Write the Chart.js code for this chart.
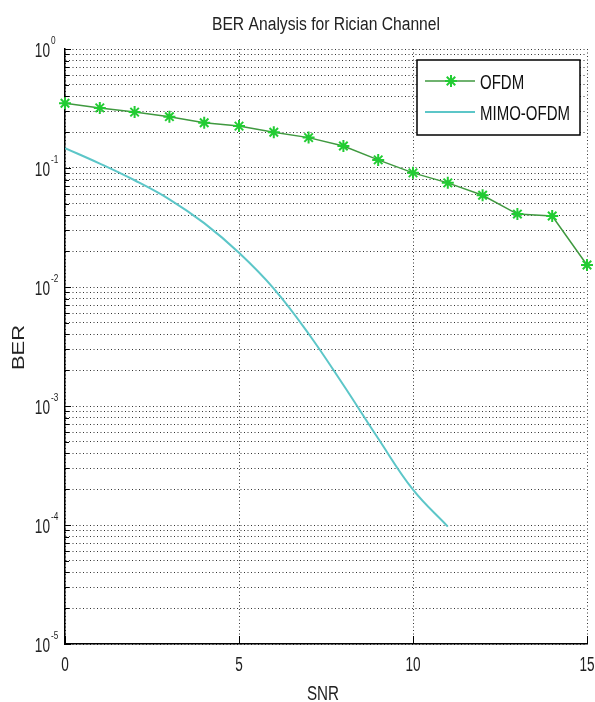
<!DOCTYPE html>
<html>
<head>
<meta charset="utf-8">
<script src="https://cdn.jsdelivr.net/npm/chart.js@4.4.0/dist/chart.umd.min.js"></script>
<style>
  body { margin: 0; background: #fff; }
  canvas { display: block; }
</style>
</head>
<body>
<canvas id="berChart" width="595" height="702"></canvas>
<script>
// values
const snr = [0, 1, 2, 3, 4, 5, 6, 7, 8, 9, 10, 11, 12, 13, 14, 15];
const ofdmBer = [0.35, 0.32, 0.295, 0.27, 0.24, 0.225, 0.2, 0.18, 0.153, 0.117, 0.091, 0.075, 0.059, 0.041, 0.0395, 0.0153];
const mimoSnr = [0, 1, 2, 3, 4, 5, 6, 7, 8, 9, 10, 11];
const mimoBer = [0.147, 0.109, 0.0789, 0.0546, 0.0344, 0.0194, 0.0097, 0.00405, 0.0015, 0.000533, 0.000198, 0.000097];
const seriesNames = ["OFDM", "MIMO-OFDM"];
const xTicks = [0, 5, 10, 15];
const yDecades = [-5, -4, -3, -2, -1, 0];

const FONT = "'Liberation Sans', Arial, sans-serif";
const TEXT = "#222";
const OFDM_LINE = "#3f993f";
const OFDM_MARK = "#22cc33";
const MIMO_LINE = "#5cc6c8";

// 1..9 x 10^n for every decade -> minor + major grid like matlab
const yTickValues = [];
yDecades.forEach(e => {
  for (let m = 1; m <= 9; m++) {
    if (e === 0 && m > 1) break;
    yTickValues.push(m * Math.pow(10, e));
  }
});

// the original figure is squeezed sideways, so text gets a horizontal scale
function squeezedText(ctx, str, x, y, size, sx, align) {
  ctx.save();
  ctx.translate(x, y);
  ctx.scale(sx, 1);
  ctx.font = size + "px " + FONT;
  ctx.textAlign = align;
  ctx.textBaseline = "alphabetic";
  ctx.fillText(str, 0, 0);
  ctx.restore();
}

function drawStar(ctx, x, y, r) {
  ctx.beginPath();
  for (let k = 0; k < 4; k++) {
    const ang = k * Math.PI / 4;
    ctx.moveTo(x - r * Math.cos(ang), y - r * Math.sin(ang));
    ctx.lineTo(x + r * Math.cos(ang), y + r * Math.sin(ang));
  }
  ctx.stroke();
}

const matlabAxes = {
  id: "matlabAxes",
  afterDraw(chart) {
    const { ctx, chartArea: a, scales: { x, y } } = chart;
    ctx.save();

    // inward tick marks
    ctx.strokeStyle = "#000";
    ctx.lineWidth = 1;
    ctx.beginPath();
    yTickValues.forEach(v => {
      const py = Math.round(y.getPixelForValue(v)) + 0.5;
      const major = Math.abs(Math.log10(v) - Math.round(Math.log10(v))) < 1e-9;
      ctx.moveTo(a.left, py);
      ctx.lineTo(a.left + (major ? 6 : 4), py);
    });
    xTicks.forEach(v => {
      const px = Math.round(x.getPixelForValue(v)) + 0.5;
      ctx.moveTo(px, a.bottom);
      ctx.lineTo(px, a.bottom - 8);
    });
    ctx.stroke();

    ctx.fillStyle = TEXT;
    // title
    squeezedText(ctx, "BER Analysis for Rician Channel", (a.left + a.right) / 2, 30, 18, 0.87, "center");

    // y labels 10^n
    yDecades.forEach(e => {
      const py = y.getPixelForValue(Math.pow(10, e));
      squeezedText(ctx, "10", 50, py + 7.5, 20, 0.68, "right");
      squeezedText(ctx, String(e), 51, py - 5, 11, 0.75, "left");
    });

    // x labels
    xTicks.forEach(v => {
      squeezedText(ctx, String(v), x.getPixelForValue(v), 671, 20, 0.68, "center");
    });

    // axis titles
    squeezedText(ctx, "SNR", 323, 700, 20, 0.76, "center");
    ctx.save();
    ctx.translate(24, (a.top + a.bottom) / 2 + 1);
    ctx.rotate(-Math.PI / 2);
    ctx.scale(1, 0.75);
    ctx.font = "22px " + FONT;
    ctx.textAlign = "center";
    ctx.textBaseline = "alphabetic";
    ctx.fillText("BER", 0, 0);
    ctx.restore();

    // legend box
    const lx = 417, ly = 60, lw = 163, lh = 75;
    ctx.fillStyle = "#fff";
    ctx.fillRect(lx, ly, lw, lh);
    ctx.strokeStyle = "#000";
    ctx.lineWidth = 1.5;
    ctx.strokeRect(lx, ly, lw, lh);

    const rows = [ly + 21, ly + 52];
    ctx.lineWidth = 1.5;
    ctx.strokeStyle = OFDM_LINE;
    ctx.beginPath();
    ctx.moveTo(lx + 8, rows[0]);
    ctx.lineTo(lx + 58, rows[0]);
    ctx.stroke();
    ctx.strokeStyle = OFDM_MARK;
    ctx.lineWidth = 2;
    drawStar(ctx, lx + 34, rows[0], 6);
    ctx.strokeStyle = MIMO_LINE;
    ctx.lineWidth = 2;
    ctx.beginPath();
    ctx.moveTo(lx + 8, rows[1]);
    ctx.lineTo(lx + 58, rows[1]);
    ctx.stroke();

    ctx.fillStyle = "#111";
    squeezedText(ctx, seriesNames[0], lx + 63, rows[0] + 8, 20, 0.75, "left");
    squeezedText(ctx, seriesNames[1], lx + 63, rows[1] + 8, 20, 0.75, "left");

    ctx.restore();
  }
};

const ctx = document.getElementById("berChart").getContext("2d");
new Chart(ctx, {
  type: "line",
  data: {
    datasets: [
      {
        label: seriesNames[0],
        data: snr.map((s, i) => ({ x: s, y: ofdmBer[i] })),
        borderColor: OFDM_LINE,
        borderWidth: 1.5,
        pointStyle: "star",
        pointRadius: 6,
        pointBorderWidth: 2,
        pointBorderColor: OFDM_MARK,
        pointBackgroundColor: OFDM_MARK,
        tension: 0,
        clip: 10
      },
      {
        label: seriesNames[1],
        data: mimoSnr.map((s, i) => ({ x: s, y: mimoBer[i] })),
        borderColor: MIMO_LINE,
        borderWidth: 2,
        pointRadius: 0,
        tension: 0.4
      }
    ]
  },
  options: {
    responsive: false,
    animation: false,
    layout: { padding: { left: 0, right: 7, top: 49, bottom: 0 } },
    plugins: {
      legend: { display: false },
      tooltip: { enabled: false },
      title: { display: false }
    },
    scales: {
      x: {
        type: "linear",
        min: 0,
        max: 15,
        afterBuildTicks: s => { s.ticks = xTicks.map(v => ({ value: v })); },
        afterFit: s => { s.height = 58; },
        ticks: { display: false },
        grid: { color: "#333", lineWidth: 1, drawTicks: false },
        border: { display: true, color: "#000", width: 1.5, dash: [1, 2.5] }
      },
      y: {
        type: "logarithmic",
        min: 1e-5,
        max: 1,
        afterBuildTicks: s => { s.ticks = yTickValues.map(v => ({ value: v })); },
        afterFit: s => { s.width = 65; },
        ticks: { display: false, autoSkip: false },
        grid: { color: "#333", lineWidth: 1, drawTicks: false },
        border: { display: true, color: "#000", width: 1.5, dash: [1, 2.5] }
      }
    }
  },
  plugins: [matlabAxes]
});
</script>
</body>
</html>
